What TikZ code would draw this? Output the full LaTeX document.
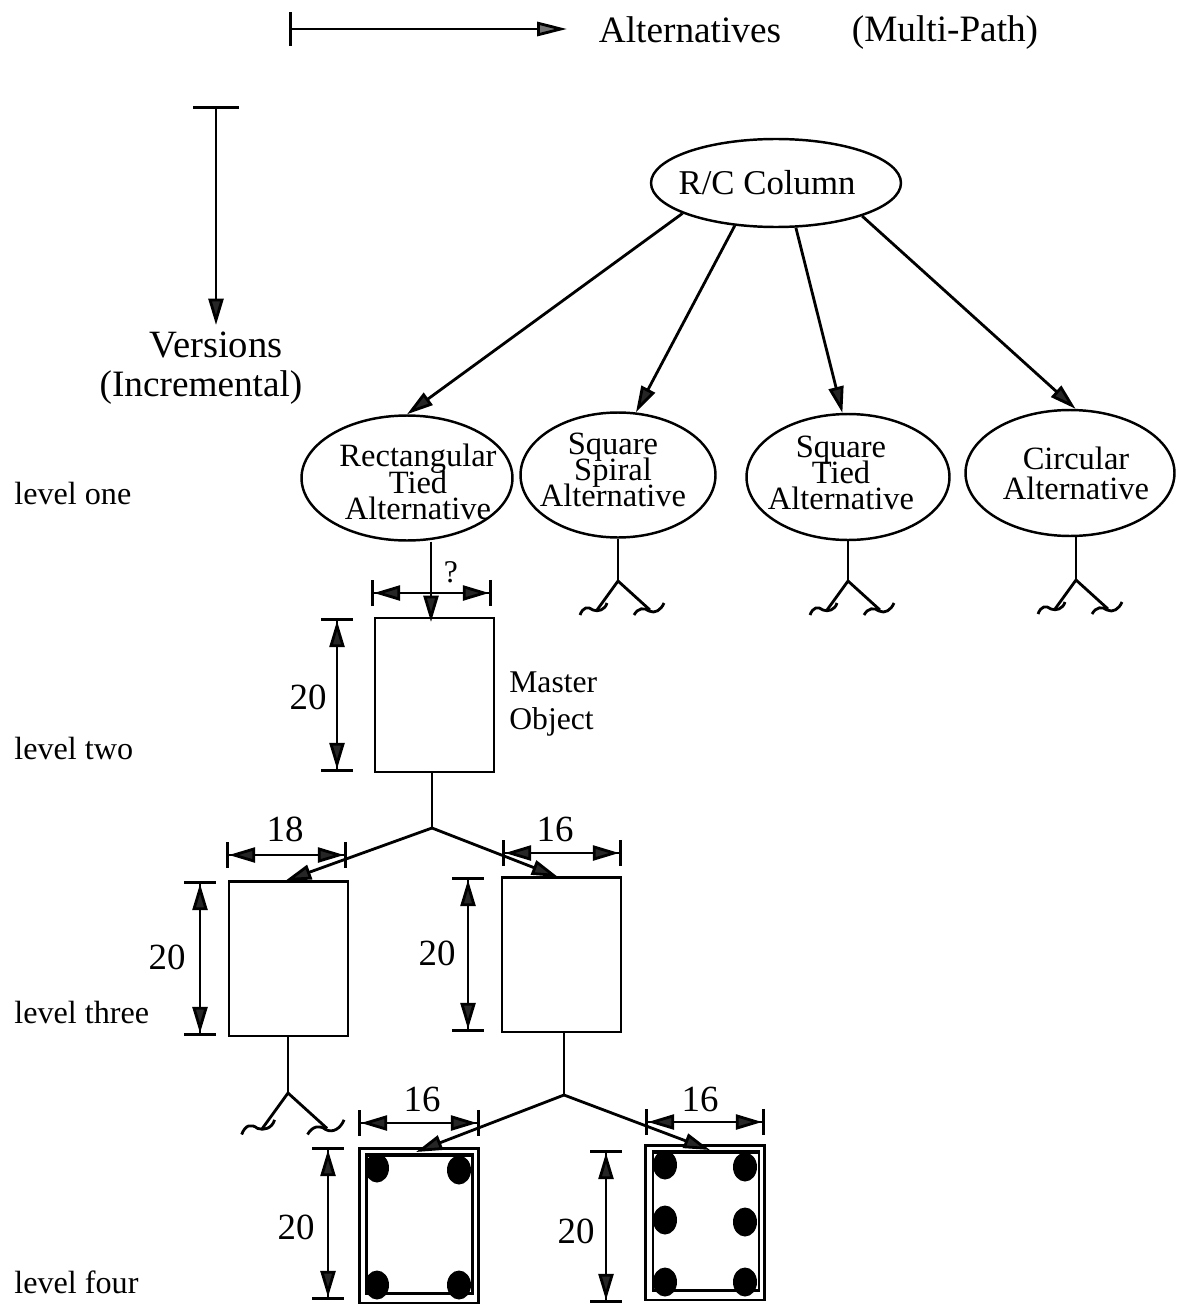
\documentclass[tikz,border=0pt]{standalone}
\usepackage{fontspec}
\setmainfont{Liberation Serif}
\usetikzlibrary{shapes.geometric, arrows.meta}

\newcommand{\tightfont}{\fontsize{18.5}{15}\selectfont\lineskiplimit=-30pt\relax}

\tikzset{
  coltip/.tip={Stealth[length=15pt, width=8.5pt, inset=0pt, fill=black!85]},
  pics/fork/.style={code={
    \draw[line] (0,0) -- (-21,29);
    \draw[line] (0,0) -- (32,29);
    \draw[line] (-38,34) .. controls (-35,26) and (-30,25) .. (-25,29) .. controls (-20,31) and (-13,29) .. (-11,22);
    \draw[line] (16,34) .. controls (20,27) and (26,26) .. (31,30) .. controls (37,33) and (43,29) .. (46,22);
  }}
}

\begin{document}
\begin{tikzpicture}[
  x=0.02cm, y=-0.02cm,
  line/.style={line width=1.6pt},
  thin line/.style={line width=1.2pt},
  arr/.style={line, -{coltip}},
  dimv/.style={line, {Bar[width=18pt, sep=0pt]coltip[sep=0pt]}-{coltip[sep=0pt]Bar[width=18pt]}},
  dimh/.style={line, {Bar[width=15pt, sep=0pt]coltip[sep=0pt]}-{coltip[sep=0pt]Bar[width=15pt]}},
  alt/.style={draw, ellipse, line width=1.4pt, inner sep=0pt},
  alttext/.style={align=center, inner sep=0pt, font=\tightfont},
  box/.style={draw, line width=1.4pt, minimum width=2.38cm, minimum height=3.09cm, inner sep=0pt},
  hoop/.style={draw, thin line, minimum width=2.12cm, minimum height=2.76cm, inner sep=0pt},
  rebar/.style={ellipse, fill=black, minimum width=0.48cm, minimum height=0.58cm, inner sep=0pt},
  lab/.style={font=\fontsize{21.2}{24}\selectfont, inner sep=0pt},
  level/.style={font=\fontsize{18.3}{20}\selectfont, inner sep=0pt, anchor=west},
  num/.style={font=\fontsize{21}{24}\selectfont, inner sep=0pt},
]
  \useasboundingbox (0,0) rectangle (1180,1304);

  % Legend
  \coordinate (altstart) at (289,29);
  \coordinate (altend) at (567,29);
  \draw[line, {Bar[width=19pt, sep=0pt]}-{Stealth[length=17pt, width=8pt, inset=0pt, fill=black!55]}] (altstart) -- (altend);
  \node[lab] (alttitle) at (690,30) {Alternatives};
  \node[lab] (altnote) at (945,33) {(Multi-Path)};
  \coordinate (verstart) at (216,106);
  \coordinate (verend) at (216,325);
  \draw[line, {Bar[width=26pt, sep=0pt]}-{coltip}] (verstart) -- (verend);
  \node[lab, font=\fontsize{22}{24}\selectfont] (vertitle) at (216,345) {Versions};
  \node[lab] (vernote) at (201,388) {(Incremental)};

  % Levels
  \node[level] (levelone) at (14,493) {level one};
  \node[level] (leveltwo) at (14,748) {level two};
  \node[level] (levelthree) at (14,1012) {level three};
  \node[level] (levelfour) at (14,1282) {level four};

  % Alternatives
  \node[alt, minimum width=5cm, minimum height=1.76cm] (column) at (776,183) {};
  \node[alttext, font=\fontsize{19.8}{24}\selectfont] (columntext) at (767,183) {R/C Column};
  \node[alt, minimum width=4.22cm, minimum height=2.5cm] (rectied) at (407,478) {};
  \node[alt, minimum width=3.9cm, minimum height=2.5cm] (sqspiral) at (618,475) {};
  \node[alt, minimum width=4.06cm, minimum height=2.52cm] (sqtied) at (848,477) {};
  \node[alt, minimum width=4.18cm, minimum height=2.52cm] (circular) at (1070,473) {};
  \node[alttext] (rectiedtext) at (418,482) {Rectangular\\Tied\\Alternative};
  \node[alttext] (sqspiraltext) at (613,470) {Square\\Spiral\\Alternative};
  \node[alttext] (sqtiedtext) at (841,473) {Square\\Tied\\Alternative};
  \node[alttext, font=\fontsize{18.5}{17}\selectfont] (circulartext) at (1076,473) {Circular\\Alternative};

  \draw[arr] (column.198) -- (rectied.north);
  \draw[arr] (column.226) -- (sqspiral.74);
  \draw[arr] (column.294) -- (sqtied.95);
  \draw[arr] (column.339) -- (circular.85);

  % Unfinished branches
  \coordinate (spiralfork) at (618,581);
  \coordinate (tiedfork) at (848,581);
  \coordinate (circfork) at (1076,580);
  \draw[line] (sqspiral.south) -- (spiralfork);
  \draw[line] (sqtied.south) -- (tiedfork);
  \draw[line] (circfork |- circular.south) -- (circfork);
  \pic at (spiralfork) {fork};
  \pic at (tiedfork) {fork};
  \pic at (circfork) {fork};

  % Level two
  \node[box] (master) at (434.5,695) {};
  \node[alttext, font=\fontsize{18}{21}\selectfont, align=left, anchor=west] (mastertext) at (509,704) {Master\\Object};
  \coordinate (masterin) at (431,622);
  \draw[arr] (masterin |- rectied.south) -- (masterin);
  \coordinate (qleft) at (371,593);
  \coordinate (qright) at (492,593);
  \draw[dimh] (qleft) -- (qright);
  \node[font=\fontsize{18}{20}\selectfont, inner sep=0pt] (qmark) at (451,572) {?};
  \coordinate (mastertop) at (337,618);
  \coordinate (masterbot) at (337,772);
  \draw[dimv] (mastertop) -- (masterbot);
  \node[num] (masterdepth) at (308,697) {20};

  % Level three
  \node[box] (leftthree) at (288.5,958.5) {};
  \node[box] (rightthree) at (561.5,954.5) {};
  \coordinate (masterfork) at (432,828);
  \draw[line] (masterfork |- master.south) -- (masterfork);
  \coordinate (leftin) at (285,881);
  \coordinate (rightin) at (558,877);
  \draw[arr] (masterfork) -- (leftin);
  \draw[arr] (masterfork) -- (rightin);
  \coordinate (ltwa) at (226,855);
  \coordinate (ltwb) at (347,855);
  \draw[dimh] (ltwa) -- (ltwb);
  \node[num] (ltwidth) at (285,829) {18};
  \coordinate (rtwa) at (502,853);
  \coordinate (rtwb) at (622,853);
  \draw[dimh] (rtwa) -- (rtwb);
  \node[num] (rtwidth) at (555,829) {16};
  \coordinate (ltda) at (200,881);
  \coordinate (ltdb) at (200,1036);
  \draw[dimv] (ltda) -- (ltdb);
  \node[num] (ltdepth) at (167,957) {20};
  \coordinate (rtda) at (468,877);
  \coordinate (rtdb) at (468,1032);
  \draw[dimv] (rtda) -- (rtdb);
  \node[num] (rtdepth) at (437,953) {20};

  \coordinate (leftfork) at (288,1093);
  \draw[line] (leftfork |- leftthree.south) -- (leftfork);
  \pic[scale=1.22] at (leftfork) {fork};

  % Level four
  \node[box] (leftfour) at (419,1225.5) {};
  \node[box] (rightfour) at (705,1222.5) {};
  \node[hoop] (lefthoop) at (419.5,1224.5) {};
  \node[hoop] (righthoop) at (706,1221.5) {};
  \draw[line] (lefthoop.north west) -- (lefthoop.north east);
  \draw[line] (righthoop.north west) -- (righthoop.north east);
  \foreach \name/\xpos/\ypos in {la/377/1168, lb/459/1170, lc/377/1285, ld/459/1285,
                                 ra/665/1165, rb/745/1167, rc/665/1220, rd/745/1222, re/665/1282, rf/745/1282}
    \node[rebar] (\name) at (\xpos,\ypos) {};
  \coordinate (rightfork) at (564,1095);
  \draw[line] (rightfork |- rightthree.south) -- (rightfork);
  \coordinate (fourleftin) at (416,1152);
  \coordinate (fourrightin) at (710,1150);
  \draw[arr] (rightfork) -- (fourleftin);
  \draw[arr] (rightfork) -- (fourrightin);
  \coordinate (lfwa) at (358,1123);
  \coordinate (lfwb) at (480,1123);
  \draw[dimh] (lfwa) -- (lfwb);
  \node[num] (lfwidth) at (422,1099) {16};
  \coordinate (rfwa) at (645,1122);
  \coordinate (rfwb) at (765,1122);
  \draw[dimh] (rfwa) -- (rfwb);
  \node[num] (rfwidth) at (700,1099) {16};
  \coordinate (lfda) at (328,1147);
  \coordinate (lfdb) at (328,1300);
  \draw[dimv] (lfda) -- (lfdb);
  \node[num] (lfdepth) at (296,1227) {20};
  \coordinate (rfda) at (606,1150);
  \coordinate (rfdb) at (606,1303);
  \draw[dimv] (rfda) -- (rfdb);
  \node[num] (rfdepth) at (576,1231) {20};
\end{tikzpicture}
\end{document}
